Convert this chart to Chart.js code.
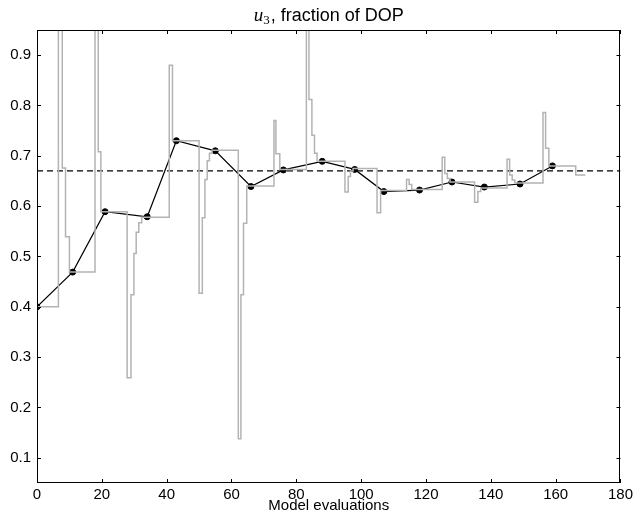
<!DOCTYPE html>
<html><head><meta charset="utf-8">
<script src="https://cdn.jsdelivr.net/npm/chart.js@4.4.1/dist/chart.umd.min.js"></script>
<style>html,body{margin:0;padding:0;background:#fff}#wrap{width:636px;height:518px}</style>
</head><body><div id="wrap"><canvas id="c" width="636" height="518"></canvas></div>
<script>
// gray step trace (value changes to stepY[i] at evaluation stepX[i]); 1.2 = off the top of the plot
const stepX = [0, 6.6, 7.8, 8.8, 10.0, 17.9, 18.9, 19.7, 27.8, 29.0, 29.9, 30.6, 31.4, 32.3,
  40.8, 41.8, 50.0, 51.0, 51.8, 52.5, 53.2, 54.0, 62.1, 62.9, 63.7, 64.7,
  73.1, 73.7, 74.9, 83.1, 83.9, 84.8, 85.6, 86.4, 95.0, 96.0, 96.7, 97.5,
  104.9, 106.0, 114.0, 114.8, 115.6, 125.0, 125.8, 126.6, 127.4, 135.0, 136.0, 136.9,
  145.0, 145.8, 146.6, 147.4, 156.1, 156.9, 157.9, 166.2, 169.2];
const stepY = [0.400, 1.2, 0.676, 0.539, 0.469, 1.2, 0.708, 0.589, 0.259, 0.424, 0.506, 0.548, 0.567, 0.578,
  0.880, 0.730, 0.427, 0.577, 0.653, 0.690, 0.705, 0.711, 0.138, 0.424, 0.566, 0.640,
  0.770, 0.704, 0.673, 1.2, 0.812, 0.741, 0.705, 0.689, 0.628, 0.659, 0.670, 0.675,
  0.587, 0.631, 0.653, 0.643, 0.633, 0.697, 0.665, 0.655, 0.648, 0.608, 0.629, 0.636,
  0.693, 0.662, 0.652, 0.646, 0.786, 0.715, 0.680, 0.662, 0.662];
// black trace with markers
const meanX = [0, 11, 21, 34, 43, 55, 66, 76, 88, 98, 107, 118, 128, 138, 149, 159];
const meanY = [0.400, 0.469, 0.589, 0.579, 0.730, 0.710, 0.639, 0.672, 0.689, 0.673, 0.629, 0.632, 0.648, 0.638, 0.644, 0.680];
// dashed reference level
const refX = [0, 180];
const refY = [0.67, 0.67];
// tick labels
const xTicks = [0, 20, 40, 60, 80, 100, 120, 140, 160, 180];
const yTicks = [0.1, 0.2, 0.3, 0.4, 0.5, 0.6, 0.7, 0.8, 0.9];
const xTickLabels = ['0','20','40','60','80','100','120','140','160','180'];
const yTickLabels = ['0.1','0.2','0.3','0.4','0.5','0.6','0.7','0.8','0.9'];

const pts = (xs, ys) => xs.map((x, i) => ({x: x, y: ys[i]}));

const framePlugin = {
  id: 'frame',
  afterDatasetsDraw(chart) {
    const {ctx, chartArea: a, scales} = chart;
    ctx.save();
    ctx.strokeStyle = '#000';
    ctx.lineWidth = 1;
    ctx.strokeRect(Math.round(a.left) + 0.5, Math.round(a.top) + 0.5, Math.round(a.right - a.left) - 1, Math.round(a.bottom - a.top) - 1);
    const tl = 4;
    ctx.beginPath();
    xTicks.forEach(v => {
      const px = Math.round(scales.x.getPixelForValue(v)) + 0.5;
      ctx.moveTo(px, a.bottom); ctx.lineTo(px, a.bottom - tl);
      ctx.moveTo(px, a.top); ctx.lineTo(px, a.top + tl);
    });
    yTicks.forEach(v => {
      const py = Math.round(scales.y.getPixelForValue(v)) + 0.5;
      ctx.moveTo(a.left, py); ctx.lineTo(a.left + tl, py);
      ctx.moveTo(a.right, py); ctx.lineTo(a.right - tl, py);
    });
    ctx.stroke();
    // title: u_3, fraction of DOP
    const s1 = 'u', s2 = '3', s3 = ', fraction of DOP';
    const f1 = 'italic 19px "Liberation Serif"', f2 = '13px "Liberation Serif"', f3 = '18px "Liberation Sans"';
    ctx.font = f1; const w1 = ctx.measureText(s1).width;
    ctx.font = f2; const w2 = ctx.measureText(s2).width;
    ctx.font = f3; const w3 = ctx.measureText(s3).width;
    const total = w1 + w2 + 1 + w3;
    let x = (a.left + a.right) / 2 - total / 2;
    const base = 21;
    ctx.fillStyle = '#000';
    ctx.textBaseline = 'alphabetic';
    ctx.textAlign = 'left';
    ctx.font = f1; ctx.fillText(s1, x, base); x += w1;
    ctx.font = f2; ctx.fillText(s2, x, base + 3); x += w2 + 1;
    ctx.font = f3; ctx.fillText(s3, x, base);
    ctx.restore();
  }
};

new Chart(document.getElementById('c'), {
  type: 'line',
  data: {
    datasets: [
      {data: pts(stepX, stepY), borderColor: '#b3b3b3', borderWidth: 1.5, stepped: true, pointRadius: 0, fill: false},
      {data: pts(refX, refY), borderColor: '#000', borderWidth: 1.3, borderDash: [6, 4], pointRadius: 0, fill: false},
      {data: pts(meanX, meanY), borderColor: '#000', borderWidth: 1.2, pointRadius: 3, pointBackgroundColor: '#000', pointBorderColor: '#000', pointBorderWidth: 1, fill: false}
    ]
  },
  options: {
    responsive: false,
    devicePixelRatio: 1,
    animation: false,
    events: [],
    layout: {padding: {left: 0, right: 15, top: 30, bottom: 0}},
    plugins: {legend: {display: false}, tooltip: {enabled: false}, title: {display: false}},
    scales: {
      x: {
        type: 'linear', min: 0, max: 180,
        grid: {display: false, drawTicks: false},
        border: {display: false},
        afterBuildTicks: s => { s.ticks = xTicks.map(v => ({value: v})); },
        afterFit: s => { s.height = 35; },
        ticks: {color: '#000', font: {family: '"Liberation Sans"', size: 15}, padding: 3, maxRotation: 0,
          callback: (v) => xTickLabels[xTicks.indexOf(v)]},
        title: {display: true, text: 'Model evaluations', color: '#000', font: {family: '"Liberation Sans"', size: 15}, padding: {top: 0, bottom: 3}}
      },
      y: {
        type: 'linear', min: 0.05, max: 0.95,
        grid: {display: false, drawTicks: false},
        border: {display: false},
        afterBuildTicks: s => { s.ticks = yTicks.map(v => ({value: v})); },
        afterFit: s => { s.width = 37; },
        ticks: {color: '#000', font: {family: '"Liberation Sans"', size: 15}, padding: 6,
          callback: (v) => { const i = yTicks.findIndex(t => Math.abs(t - v) < 1e-9); return i >= 0 ? yTickLabels[i] : ''; }}
      }
    }
  },
  plugins: [framePlugin]
});
</script>
</body></html>
